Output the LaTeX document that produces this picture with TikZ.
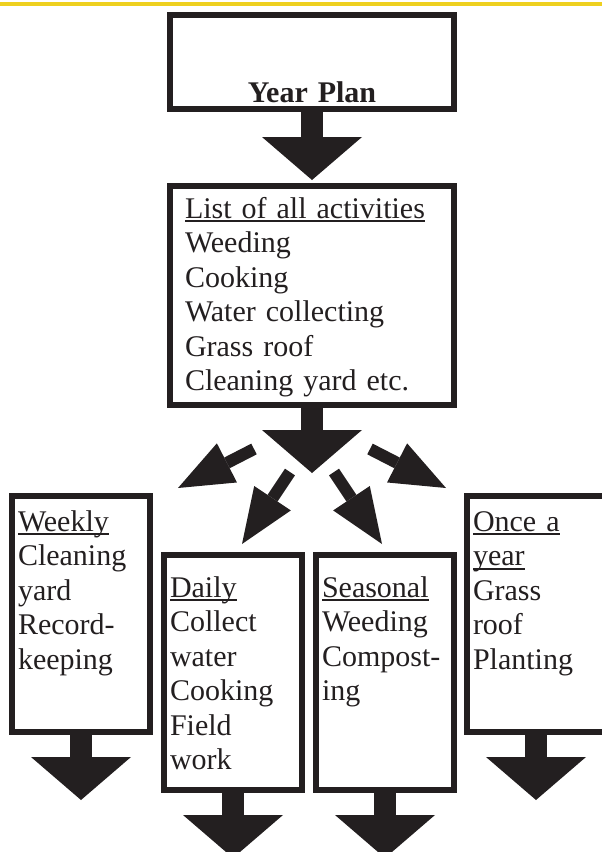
\documentclass[tikz,border=0pt]{standalone}
\usepackage{fontspec}
\setmainfont{Liberation Serif}
\usepackage{xcolor}
\usepackage{tikz}
\usetikzlibrary{arrows.meta}

\definecolor{ink}{RGB}{35,31,32}
\definecolor{banner}{RGB}{238,208,32}

\newsavebox{\hdbox}
\newcommand{\ulhd}[1]{\leavevmode\sbox{\hdbox}{#1}\rlap{\rule[-4pt]{\wd\hdbox}{1.8pt}}\usebox{\hdbox}}

\begin{document}
\begin{tikzpicture}[x=1pt,y=-1pt,ink,font=\fontsize{30}{34.5}\selectfont,
  panel/.style={draw,line width=6pt,anchor=north west,align=left,inner xsep=6pt,inner ysep=0pt,text width=126pt},
  fat/.style={line width=22pt,-{Triangle[length=43pt,width=100pt,line width=0pt]}},
  branch/.style={line width=12pt,-{Triangle[length=55pt,width=44pt,line width=0pt]}}]

	\useasboundingbox (0,0) rectangle (602,852);
	\clip (0,0) rectangle (602,852);

	% Top band
	\fill[banner] (0,1.5) rectangle (602,6);

	% The boxes
	\node [panel,align=center,text width=272pt,text height=87pt,text depth=7pt] at (167,12) (year) {\textbf{Year Plan}};
	\node [panel,inner xsep=15pt,text width=254pt,text height=32pt,text depth=187pt] at (167,183) (list)
		{\ulhd{List of all activities}\\Weeding\\Cooking\\Water collecting\\Grass roof\\Cleaning yard etc.};

	\node [panel,text height=35pt,text depth=201pt] at (9,493) (weekly)
		{\ulhd{Weekly}\\Cleaning\\yard\\Record-\\keeping};
	\node [panel,text height=42pt,text depth=193pt] at (161,552) (daily)
		{\ulhd{Daily}\\Collect\\water\\Cooking\\Field\\work};
	\node [panel,text height=42pt,text depth=193pt] at (313,552) (seasonal)
		{\ulhd{Seasonal}\\Weeding\\Compost-\\ing};
	\node [panel,text height=35pt,text depth=201pt] at (464,493) (once)
		{\ulhd{Once a}\\\ulhd{year}\\Grass\\roof\\Planting};

	% Arrow ends
	\coordinate (split) at (312,473);
	\coordinate (weeklytip) at (81,800);
	\coordinate (dailytip) at (233,858);
	\coordinate (seasonaltip) at (385,858);
	\coordinate (oncetip) at (536,800);

	\coordinate (t1) at (254,449);  \coordinate (h1) at (178,488);
	\coordinate (t2) at (290,472);  \coordinate (h2) at (242,544);
	\coordinate (t3) at (334,472);  \coordinate (h3) at (382,544);
	\coordinate (t4) at (370,449);  \coordinate (h4) at (446,488);

	% Arrows
	\path[fat]
	(year) edge[shorten >=3pt] (list)
	(list) edge (split)
	(weekly) edge (weeklytip)
	(daily) edge (dailytip)
	(seasonal) edge (seasonaltip)
	(once) edge (oncetip);

	\path[branch]
	(t1) edge (h1)
	(t2) edge (h2)
	(t3) edge (h3)
	(t4) edge (h4);

\end{tikzpicture}
\end{document}
